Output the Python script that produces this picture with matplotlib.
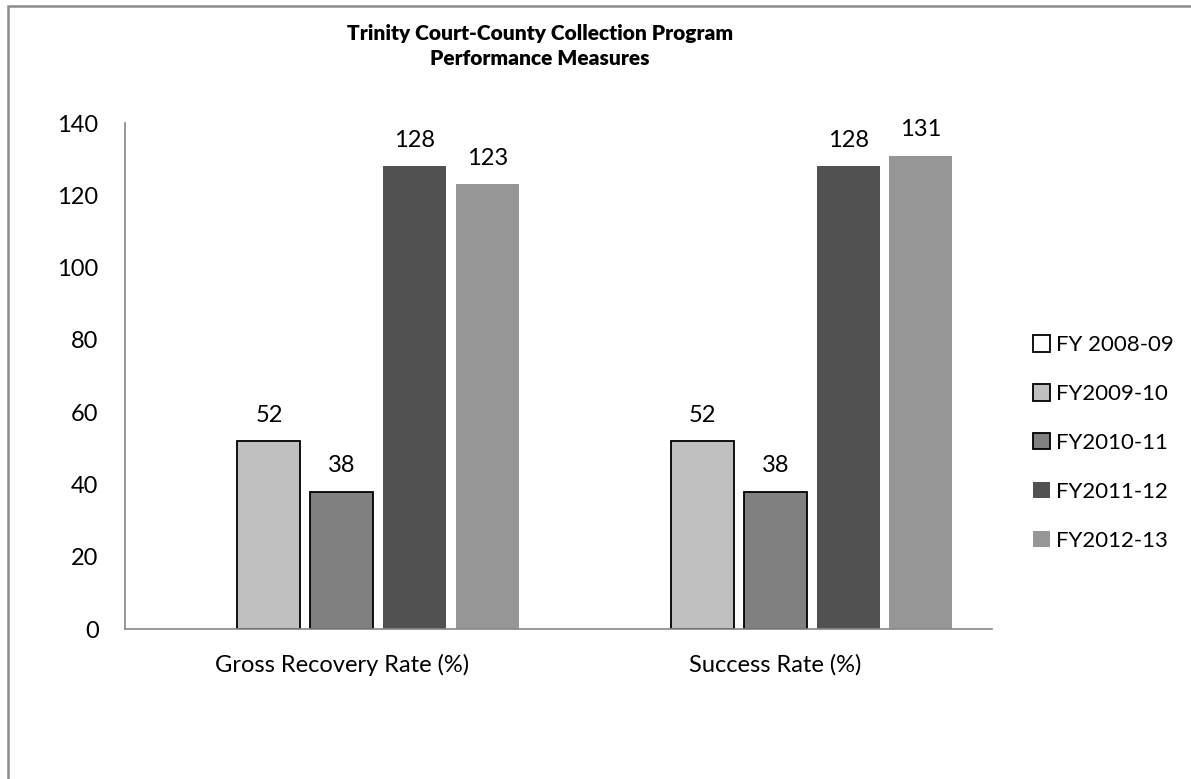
import numpy as np
import matplotlib.pyplot as plt
from matplotlib.patches import Rectangle

# 数据
categories = ['Gross Recovery Rate (%)', 'Success Rate (%)']
series_names = ['FY 2008-09', 'FY2009-10', 'FY2010-11', 'FY2011-12', 'FY2012-13']
fy0809 = [0, 0]
fy0910 = [52, 52]
fy1011 = [38, 38]
fy1112 = [128, 128]
fy1213 = [123, 131]
show_label = [False, True, True, True, True]

values = [fy0809, fy0910, fy1011, fy1112, fy1213]
colors = ['#ffffff', '#c0c0c0', '#808080', '#515151', '#969696']
edges = ['black', 'black', 'black', 'none', 'none']

plt.rcParams['font.family'] = ['Lato', 'DejaVu Sans']

fig = plt.figure(figsize=(11.91, 7.79), dpi=100)
ax = fig.add_axes([125 / 1191, 1 - 629 / 779, 867 / 1191, 506 / 779])

x = np.arange(len(categories))
slot = 0.168
width = 0.145
handles = []
for i, (vals, name) in enumerate(zip(values, series_names)):
    pos = x + (i - 2) * slot
    # 零值柱不画边框
    bars = ax.bar(pos, vals, width, color=colors[i],
                  edgecolor=[edges[i] if v > 0 else 'none' for v in vals],
                  linewidth=1.3)
    handles.append(Rectangle((0, 0), 1, 1, facecolor=colors[i], edgecolor=edges[i], linewidth=1.3))
    if show_label[i]:
        ax.bar_label(bars, padding=11, fontsize=17)

ax.set_xlim(-0.5, 1.5)
ax.set_ylim(0, 140)
ax.set_yticks(range(0, 141, 20))
ax.set_xticks(x)
ax.set_xticklabels(categories)
ax.tick_params(axis='both', length=0, labelsize=17, colors='black')
ax.tick_params(axis='y', pad=19)
ax.tick_params(axis='x', pad=18)
for s in ['top', 'right']:
    ax.spines[s].set_visible(False)
for s in ['left', 'bottom']:
    ax.spines[s].set_color('#868686')
    ax.spines[s].set_linewidth(1.2)

fig.text(540 / 1191, 1 - 46 / 779, 'Trinity Court-County Collection Program\nPerformance Measures',
         ha='center', va='center', fontsize=15, fontweight='heavy', linespacing=1.35)

leg = fig.legend(handles, series_names, loc='center left',
                 bbox_to_anchor=(1013 / 1191, 1 - 443 / 779),
                 frameon=False, fontsize=16, handlelength=0.75, handleheight=0.75,
                 handletextpad=0.3, labelspacing=1.3)

# 外框
fig.add_artist(Rectangle((8 / 1191, -1), 5, 1 + (1 - 6 / 779), transform=fig.transFigure,
                         fill=False, edgecolor='#8c8c8c', linewidth=1.8, clip_on=False))

plt.savefig('out.png', dpi=100)
plt.close()
